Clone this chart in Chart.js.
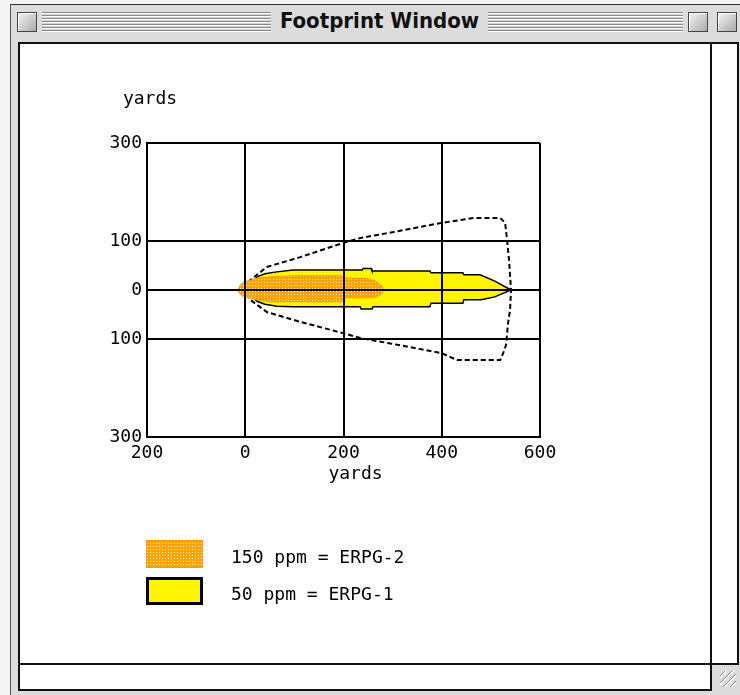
<!DOCTYPE html>
<html>
<head>
<meta charset="utf-8">
<title>Footprint Window</title>
<script src="https://cdn.jsdelivr.net/npm/chart.js@4/dist/chart.umd.min.js"></script>
<style>
    body { margin: 0; width: 740px; height: 695px; overflow: hidden; background: #f4f4f4; position: relative; font-family: "DejaVu Sans Mono", monospace; }
    .abs { position: absolute; }
    #frame { left: 10px; top: 4px; width: 740px; height: 700px; background: #dcdcdc; border-left: 1px solid #555; border-top: 1px solid #333; }
    .box { top: 12px; width: 18px; height: 18px; border: 1px solid #444; background: linear-gradient(135deg, #f4f4f4, #aaa); box-shadow: inset 1px 1px 0 #fff; }
    .stripes { top: 12px; height: 20px; background: repeating-linear-gradient(to bottom, #8a8a8a 0 1px, #fafafa 1px 2px, #d4d4d4 2px 3px); }
    #title { left: 271px; width: 217px; top: 8px; height: 28px; line-height: 28px; text-align: center; font: bold 22px "Liberation Sans Narrow", "DejaVu Sans Condensed", sans-serif; color: #111; background: #dcdcdc; }
    #content { left: 18px; top: 42px; width: 717px; height: 645px; border: 2px solid #111; background: #fff; }
    #chart { left: 20px; top: 44px; }
    #vline { left: 710px; top: 44px; width: 2px; height: 645px; background: #111; }
    #hline { left: 20px; top: 663px; width: 717px; height: 2px; background: #111; }
    #grow { left: 712px; top: 665px; width: 28px; height: 30px; background: #dcdcdc; }
    #grow::after { content: ""; position: absolute; left: 8px; top: 6px; width: 16px; height: 16px;
        background: repeating-linear-gradient(135deg, transparent 0 3px, #888 3px 4px, #fff 4px 5px); }
</style>
</head>
<body>
<div id="frame" class="abs"></div>
<div class="abs box" style="left:17px"></div>
<div class="abs stripes" style="left:42px;width:229px"></div>
<div class="abs stripes" style="left:488px;width:195px"></div>
<div id="title" class="abs">Footprint Window</div>
<div class="abs box" style="left:688px"></div>
<div class="abs box" style="left:717px"></div>
<div id="content" class="abs"></div>
<canvas id="chart" class="abs footprint-chart" width="690" height="619"></canvas>
<div id="vline" class="abs"></div>
<div id="hline" class="abs"></div>
<div id="grow" class="abs"></div>

<script>
// footprint outlines, yards downwind (x) and crosswind (y)
const confidenceX = [0, 10, 44, 112, 199, 234, 300, 400, 464, 519, 529, 533, 537, 541, 539, 535, 531, 525, 519, 431, 400, 300, 234, 199, 112, 44, 10, 0];
const confidenceY = [0, 20, 47, 67, 96, 106, 118, 137, 147, 147, 137, 102, 61, 0, -41, -67, -112, -129, -143, -143, -129, -110, -98, -88, -65, -45, -20, 0];

const erpg1X = [4, 24, 40, 64, 97, 238, 240, 256, 258, 376, 378, 443, 445, 478, 508, 541, 508, 480, 445, 443, 378, 376, 260, 258, 236, 234, 97, 64, 40, 24, 4];
const erpg1Y = [0, 27, 33, 37, 41, 41, 44, 44, 39, 39, 35, 35, 31, 31, 18, 0, -14, -20, -20, -27, -27, -34, -34, -39, -39, -34, -34, -33, -29, -23, 0];

const erpg2X = [-15, -10, -4, 10, 24, 50, 100, 196, 200, 243, 260, 270, 278, 281, 278, 270, 260, 200, 196, 100, 50, 24, 10, -4, -10, -15];
const erpg2Y = [0, 10, 15, 20, 24, 27, 29, 29, 24, 24, 20, 15, 8, 0, -8, -12, -16, -16, -24, -24, -24, -20, -17, -13, -9, 0];

const xTicks = [-200, 0, 200, 400, 600];
const yTicks = [-300, -100, 0, 100, 300];
const legendLabels = ['150 ppm = ERPG-2', '50 ppm = ERPG-1'];
const axisLabel = 'yards';

const monoFont = '18px "DejaVu Sans Mono", monospace';

const toPoints = (xs, ys) => xs.map((x, i) => ({x: x, y: ys[i]}));

// orange with white dots, like the old Mac fill pattern
const makeDots = () => {
    const c = document.createElement('canvas');
    c.width = 3;
    c.height = 3;
    const g = c.getContext('2d');
    g.fillStyle = '#ffa400';
    g.fillRect(0, 0, 3, 3);
    g.fillStyle = '#fff3d6';
    g.fillRect(1, 1, 1, 1);
    return g.createPattern(c, 'repeat');
};
const dots = makeDots();

const footprintExtras = {
    id: 'footprintExtras',
    afterDraw(chart) {
        const {ctx, chartArea} = chart;
        ctx.save();
        ctx.font = monoFont;
        ctx.fillStyle = '#000';
        ctx.textAlign = 'center';
        ctx.textBaseline = 'middle';
        ctx.fillText(axisLabel, chartArea.left + 3, chartArea.top - 44);
        ctx.fillText(axisLabel, (chartArea.left + chartArea.right) / 2 + 12, chartArea.bottom + 37);

        // legend boxes
        const items = chart.data.datasets.filter(d => d.legendLabel);
        items.forEach((d, i) => {
            const x = chartArea.left - 1;
            const y = chartArea.bottom + 103 + i * 37;
            ctx.fillStyle = d.backgroundColor;
            ctx.fillRect(x, y, 57, 28);
            ctx.lineWidth = d.legendBorder;
            ctx.strokeStyle = d.borderColor;
            ctx.strokeRect(x + d.legendBorder / 2, y + d.legendBorder / 2, 57 - d.legendBorder, 28 - d.legendBorder);
            ctx.fillStyle = '#000';
            ctx.textAlign = 'left';
            ctx.fillText(d.legendLabel, x + 85, y + 18);
        });
        ctx.restore();
    }
};

const chartSettings = {
    type: 'scatter',
    data: {
        datasets: [
            {
                label: 'ERPG-2',
                legendLabel: legendLabels[0],
                legendBorder: 1,
                data: toPoints(erpg2X, erpg2Y),
                showLine: true,
                fill: 'shape',
                backgroundColor: dots,
                borderColor: '#ff9a00',
                borderWidth: 1,
                pointRadius: 0
            },
            {
                label: 'ERPG-1',
                legendLabel: legendLabels[1],
                legendBorder: 3,
                data: toPoints(erpg1X, erpg1Y),
                showLine: true,
                fill: 'shape',
                backgroundColor: '#fff500',
                borderColor: '#000',
                borderWidth: 1.5,
                pointRadius: 0
            },
            {
                label: 'confidence',
                data: toPoints(confidenceX, confidenceY),
                showLine: true,
                fill: false,
                borderColor: '#000',
                borderWidth: 2,
                borderDash: [5, 3],
                pointRadius: 0
            }
        ]
    },
    options: {
        responsive: false,
        animation: false,
        layout: {
            padding: {left: 0, top: 99, right: 170, bottom: 196}
        },
        plugins: {
            legend: {display: false},
            tooltip: {enabled: false}
        },
        scales: {
            x: {
                type: 'linear',
                min: -200,
                max: 600,
                afterBuildTicks: scale => { scale.ticks = xTicks.map(v => ({value: v})); },
                afterFit: scale => { scale.height = 30; },
                grid: {color: '#000', lineWidth: 2, drawTicks: false, z: 1},
                border: {color: '#000', width: 2, z: 1},
                ticks: {
                    color: '#000',
                    font: {family: '"DejaVu Sans Mono", monospace', size: 18},
                    padding: 6,
                    maxRotation: 0,
                    callback: v => Math.abs(v)
                }
            },
            y: {
                type: 'linear',
                min: -300,
                max: 300,
                afterBuildTicks: scale => { scale.ticks = yTicks.map(v => ({value: v})); },
                afterFit: scale => { scale.width = 127; },
                grid: {color: '#000', lineWidth: 2, drawTicks: false, z: 1},
                border: {color: '#000', width: 2, z: 1},
                ticks: {
                    color: '#000',
                    font: {family: '"DejaVu Sans Mono", monospace', size: 18},
                    padding: 5,
                    callback: v => Math.abs(v)
                }
            }
        }
    },
    plugins: [footprintExtras]
};

const elements = document.querySelectorAll('.footprint-chart');
elements.forEach(element => new Chart(element, chartSettings));
</script>
</body>
</html>
